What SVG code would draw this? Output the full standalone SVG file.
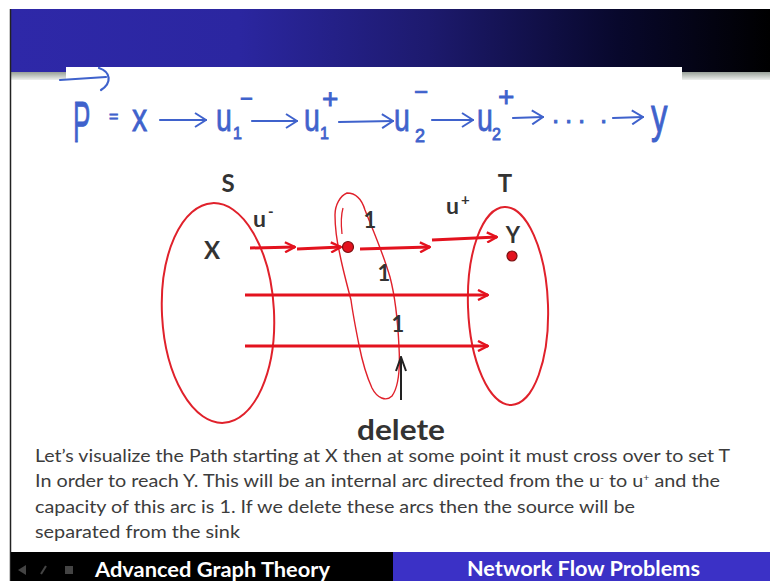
<svg xmlns="http://www.w3.org/2000/svg" width="770" height="581" viewBox="0 0 770 581">
<defs>
<linearGradient id="hdr" x1="0" y1="0" x2="1" y2="0">
<stop offset="0" stop-color="#2e28a8"/>
<stop offset="0.3" stop-color="#2b26a0"/>
<stop offset="0.55" stop-color="#1d1a6e"/>
<stop offset="0.8" stop-color="#08082c"/>
<stop offset="1" stop-color="#000000"/>
</linearGradient>
<linearGradient id="shade" x1="0" y1="0" x2="0" y2="1">
<stop offset="0" stop-color="#98a098"/>
<stop offset="1" stop-color="#eef0ee"/>
</linearGradient>
<marker id="ar" viewBox="0 0 12 12" refX="11" refY="6" markerWidth="12" markerHeight="12" orient="auto" markerUnits="userSpaceOnUse">
<path d="M1,1 L11,6 L1,11" fill="none" stroke="#e3121e" stroke-width="2.4"/>
</marker>
<marker id="ab" viewBox="0 0 14 16" refX="13" refY="8" markerWidth="14" markerHeight="16" orient="auto" markerUnits="userSpaceOnUse">
<path d="M2,1 L13,8 L2,15" fill="none" stroke="#3f62cc" stroke-width="2"/>
</marker>
<marker id="ak" viewBox="0 0 16 12" refX="15" refY="6" markerWidth="16" markerHeight="12" orient="auto" markerUnits="userSpaceOnUse">
<path d="M1,1 L15,6 L1,11" fill="none" stroke="#222" stroke-width="2"/>
</marker>
<style>
.hw{font-family:"Liberation Sans",Arial,sans-serif;fill:#3f62cc;stroke:#3f62cc;stroke-width:0.8}
.hwl{fill:none;stroke:#3f62cc;stroke-width:2.2;stroke-linecap:round}
.set{fill:none;stroke:#e0212b;stroke-width:2}
.arr{fill:none;stroke:#e3121e;stroke-width:3;marker-end:url(#ar)}
.lbl{font-family:Lato,"Open Sans",sans-serif;font-weight:bold;fill:#333}
.body{font-family:Lato,"Open Sans",sans-serif;font-size:17px;fill:#3c3c3c}
.bar{font-family:Lato,"Open Sans",sans-serif;font-weight:bold;font-size:20px;fill:#fff}
.dot{fill:#e3121e;stroke:#7a1010;stroke-width:1.2}
</style>
</defs>

<!-- background / frame -->
<rect x="0" y="0" width="770" height="581" fill="#ffffff"/>
<rect x="11" y="9" width="759" height="63" fill="url(#hdr)"/>
<rect x="11" y="72" width="55" height="8" fill="url(#shade)"/>
<rect x="682" y="72" width="88" height="8" fill="url(#shade)"/>
<rect x="66" y="67" width="616" height="14" fill="#ffffff"/>
<line x1="10.5" y1="9" x2="10.5" y2="581" stroke="#222" stroke-width="1.5"/>

<!-- handwritten formula -->
<g id="formula">
<path class="hwl" d="M60,80 L106,77"/>
<path class="hwl" d="M99,68 C111,72 112,83 101,90"/>
<text class="hw" font-size="58" transform="translate(73,142) scale(0.45,1)">P</text>
<text class="hw" font-size="16" x="109" y="122">=</text>
<text class="hw" font-size="38" transform="translate(132,131) scale(0.8,1)">x</text>
<path class="hwl" d="M160,120 L206,120" marker-end="url(#ab)"/>
<text class="hw" font-size="38" transform="translate(216,131) scale(0.75,1)">u</text>
<text class="hw" font-size="16" x="233" y="139">1</text>
<text class="hw" font-size="22" x="240" y="106">−</text>
<path class="hwl" d="M252,121 L297,121" marker-end="url(#ab)"/>
<text class="hw" font-size="38" transform="translate(304,131) scale(0.75,1)">u</text>
<text class="hw" font-size="16" x="320" y="139">1</text>
<text class="hw" font-size="28" x="322" y="108">+</text>
<path class="hwl" d="M339,122 L393,121" marker-end="url(#ab)"/>
<text class="hw" font-size="38" transform="translate(394,131) scale(0.75,1)">u</text>
<text class="hw" font-size="18" x="415" y="142">2</text>
<text class="hw" font-size="24" x="414" y="100">−</text>
<path class="hwl" d="M432,120 L473,120" marker-end="url(#ab)"/>
<text class="hw" font-size="38" transform="translate(477,131) scale(0.75,1)">u</text>
<text class="hw" font-size="16" x="492" y="140">2</text>
<text class="hw" font-size="28" x="498" y="106">+</text>
<path class="hwl" d="M513,118 L543,117" marker-end="url(#ab)"/>
<text class="hw" font-size="26" x="552 565 578 600" y="123">....</text>
<path class="hwl" d="M613,118 L643,117" marker-end="url(#ab)"/>
<text class="hw" font-size="44" transform="translate(651,132) scale(0.75,1.1)">y</text>
</g>

<!-- set S -->
<g id="set-S">
<ellipse class="set" cx="218" cy="313" rx="56" ry="110" transform="rotate(-3 218 313)"/>
<text class="lbl" font-size="24" x="228" y="192" text-anchor="middle">S</text>
<text class="lbl" font-size="24" x="212" y="259" text-anchor="middle">X</text>
</g>

<!-- set T -->
<g id="set-T">
<ellipse class="set" cx="508" cy="306" rx="40" ry="99" transform="rotate(-2 508 306)"/>
<text class="lbl" font-size="24" x="505" y="192" text-anchor="middle">T</text>
<text class="lbl" font-size="22" x="513" y="243" text-anchor="middle">Y</text>
<circle class="dot" cx="512" cy="256" r="5"/>
</g>

<!-- cut loop -->
<g id="cut-loop">
<path d="M347,193 C356,193 362,200 365,210 C372,228 382,250 390,277 C396,300 398,325 399,347 C400,365 400,385 392,396 C386,402 377,398 372,388 C366,375 362,360 359,345 C356,330 353,315 351,300 C347,285 343,270 340,255 C337,242 335,228 335,215 C335,205 340,196 347,193 Z" fill="none" stroke="#e0212b" stroke-width="1.4"/>
<path d="M343,208 C341,215 341,225 342,234" fill="none" stroke="#e0212b" stroke-width="1.3"/>
</g>

<!-- node u -->
<g id="node-u">
<circle class="dot" cx="348" cy="247" r="5.5"/>
</g>

<!-- connectors -->
<g id="connectors">
<path class="arr" d="M250,248 L295,247"/>
<path class="arr" d="M297,249 L341,247"/>
<path class="arr" d="M360,249 L430,247"/>
<path class="arr" d="M432,240 L497,237"/>
<path class="arr" d="M245,295 L488,295"/>
<path class="arr" d="M245,346 L488,346"/>
<path d="M401,400 L401,357" fill="none" stroke="#222" stroke-width="2" marker-end="url(#ak)"/>
</g>

<!-- edge labels -->
<g id="labels">
<text class="lbl" font-size="23" x="253" y="227">u</text>
<text class="lbl" font-size="15" x="268" y="217">-</text>
<text class="lbl" font-size="23" x="446" y="214">u</text>
<text class="lbl" font-size="15" x="461" y="205">+</text>
<text class="lbl" font-size="22" x="370" y="228" text-anchor="middle">1</text>
<text class="lbl" font-size="22" x="384" y="281" text-anchor="middle">1</text>
<text class="lbl" font-size="22" x="398" y="332" text-anchor="middle">1</text>
<text class="lbl" font-size="29" x="357" y="440" textLength="88" lengthAdjust="spacingAndGlyphs">delete</text>
</g>

<!-- body text -->
<g id="caption">
<text class="body" x="35" y="462" textLength="695" lengthAdjust="spacingAndGlyphs">Let’s visualize  the Path starting at X then at some point it must cross over to set T</text>
<text class="body" x="35" y="487" textLength="685" lengthAdjust="spacingAndGlyphs">In order to reach Y.  This will be an internal arc directed from the u<tspan font-size="9" dy="-6">-</tspan><tspan dy="6"> to u</tspan><tspan font-size="9" dy="-6">+</tspan><tspan dy="6"> and the</tspan></text>
<text class="body" x="35" y="513" textLength="600" lengthAdjust="spacingAndGlyphs">capacity of this arc is 1. If we delete these arcs then the source will be</text>
<text class="body" x="35" y="538" textLength="205" lengthAdjust="spacingAndGlyphs">separated from the sink</text>
</g>

<!-- bottom bar -->
<g id="footer">
<rect x="11" y="552" width="382" height="29" fill="#000"/>
<rect x="393" y="552" width="377" height="29" fill="#3b31c6"/>
<polygon points="18,570 26,565 26,575" fill="#444"/>
<line x1="41" y1="574" x2="46" y2="566" stroke="#444" stroke-width="2"/>
<rect x="65" y="566" width="8" height="8" fill="#444"/>
<text class="bar" x="95" y="577" textLength="235" lengthAdjust="spacingAndGlyphs">Advanced Graph Theory</text>
<text class="bar" x="467" y="576" textLength="233" lengthAdjust="spacingAndGlyphs">Network Flow Problems</text>
</g>
</svg>
